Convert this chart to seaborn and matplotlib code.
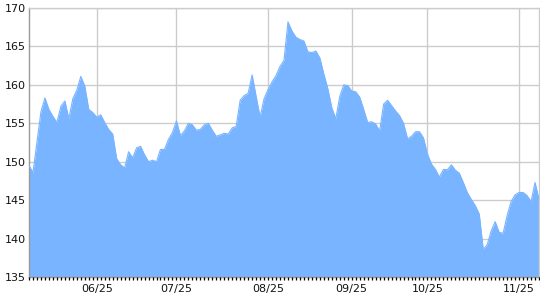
import numpy as np
import pandas as pd
import matplotlib
matplotlib.use("Agg")
import matplotlib.pyplot as plt
import seaborn as sns
from matplotlib.ticker import FixedLocator, MultipleLocator

# ---- data ----
prices = [
    149.5, 148.6, 152.5, 156.5, 158.3, 156.8, 155.9, 155.1, 157.2, 157.9,
    155.6, 158.2, 159.3, 161.1, 159.85, 156.8, 156.4, 155.8, 156.1, 155.1,
    154.2, 153.6, 150.4, 149.6, 149.2, 151.3, 150.5, 151.8, 152.0, 150.9,
    150.0, 150.2, 150.0, 151.6, 151.6, 152.9, 153.8, 155.3, 153.4, 154.0,
    155.0, 154.8, 154.1, 154.2, 154.8, 155.0, 154.1, 153.3, 153.5, 153.7,
    153.6, 154.4, 154.6, 158.0, 158.6, 158.9, 161.3, 158.5, 155.8, 158.2,
    159.4, 160.4, 161.2, 162.4, 163.2, 168.2, 167.0, 166.2, 165.9, 165.7,
    164.3, 164.2, 164.4, 163.5, 161.4, 159.5, 157.0, 155.6, 158.5, 160.0,
    159.9, 159.2, 159.1, 158.4, 156.8, 155.1, 155.2, 154.9, 154.0, 157.5,
    158.0, 157.3, 156.6, 156.0, 155.0, 153.0, 153.3, 153.9, 153.9, 153.1,
    151.0, 149.7, 149.0, 148.0, 149.0, 148.95, 149.6, 148.9, 148.5, 147.3,
    146.0, 145.1, 144.3, 143.2, 138.6, 139.2, 141.0, 142.2, 140.8, 140.7,
    143.0, 144.8, 145.7, 146.0, 146.0, 145.6, 144.8, 147.3, 145.1,
]
tick_labels = ["06/25", "07/25", "08/25", "09/25", "10/25", "11/25"]
tick_index = [17, 37, 60, 81, 100, 123]

df = pd.DataFrame({"day": np.arange(len(prices)), "price": prices})

sns.set_theme(style="ticks")
plt.rcParams["font.family"] = ["DejaVu Sans"]

fig = plt.figure(figsize=(5.4, 3.0), dpi=100)
ax = fig.add_axes([29 / 540, 23 / 300, 510 / 540, 269 / 300])

fill_color = "#78b4ff"
ax.fill_between(df["day"], df["price"], 135, color=fill_color, linewidth=0, zorder=2)
sns.lineplot(data=df, x="day", y="price", ax=ax, color=fill_color, linewidth=0.8, zorder=3)

ax.set_xlim(0, len(prices) - 1)
ax.set_ylim(135, 170)
ax.yaxis.set_major_locator(MultipleLocator(5))
ax.xaxis.set_major_locator(FixedLocator(tick_index))
ax.set_xticklabels(tick_labels)

ax.grid(True, which="major", color="#cccccc", linewidth=1.0)
ax.set_axisbelow(True)
ax.set_xlabel("")
ax.set_ylabel("")

for side in ["top", "right"]:
    ax.spines[side].set_visible(True)
    ax.spines[side].set_color("#cccccc")
    ax.spines[side].set_linewidth(1.0)
ax.spines["left"].set_color("#999999")
ax.spines["left"].set_linewidth(1.0)
ax.spines["bottom"].set_color("#999999")
ax.spines["bottom"].set_linewidth(1.0)

ax.tick_params(axis="x", which="major", length=0, bottom=False, top=False,
               labelsize=8, pad=5, labelcolor="#111111")
ax.tick_params(axis="y", which="both", length=0, left=False, right=False,
               labelsize=8, pad=2, labelcolor="#111111")

# small daily tick marks below the x axis (one per data point)
ax.vlines(df["day"], 0, -0.012, transform=ax.get_xaxis_transform(),
          colors="#000000", linewidth=0.9, clip_on=False, zorder=6)

fig.savefig("out.png", dpi=100)
